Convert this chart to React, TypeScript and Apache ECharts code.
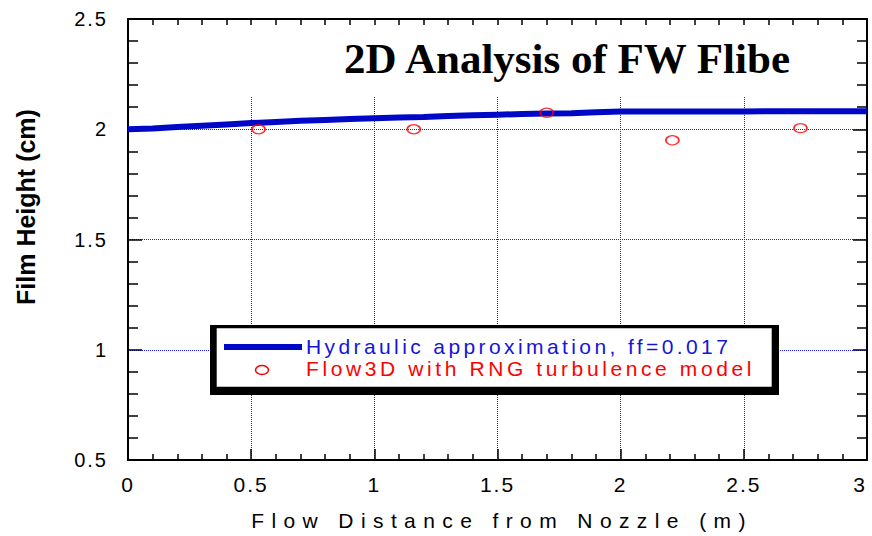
import React, { useEffect, useRef } from "react";
import * as echarts from "echarts";

// ---- data ----
const lineX = [0, 0.1, 0.2, 0.3, 0.4, 0.5, 0.6, 0.7, 0.8, 0.9, 1.0, 1.1, 1.2, 1.3, 1.4, 1.5, 1.6, 1.7, 1.8, 1.9, 2.0, 2.5, 3.0];
const lineY = [2.0, 2.003, 2.01, 2.016, 2.022, 2.028, 2.033, 2.038, 2.042, 2.046, 2.05, 2.053, 2.056, 2.06, 2.063, 2.066, 2.069, 2.071, 2.073, 2.077, 2.08, 2.081, 2.082];
const flowX = [0.53, 1.16, 1.7, 2.21, 2.73];
const flowY = [2.0, 2.0, 2.075, 1.95, 2.005];

const titleText = "2D Analysis of FW Flibe";
const xName = "Flow Distance from Nozzle (m)";
const yName = "Film Height (cm)";
const seriesNames = ["Hydraulic approximation, ff=0.017", "Flow3D with RNG turbulence model"];

const SANS = "'Liberation Sans', Arial, sans-serif";
const BLUE_LINE = "#0008c8";
const BLUE_TEXT = "#1414dc";
const RED = "#ff0000";
const GRID_BLUE = "#1a1aff";

const css = `
text[style*="lsA"], text[font-family*="lsA"] { letter-spacing: 3.4px; }
text[style*="lsB"], text[font-family*="lsB"] { letter-spacing: 3.6px; }
text[style*="lsC"], text[font-family*="lsC"] { letter-spacing: 2px; }
text[style*="lsD"], text[font-family*="lsD"] { letter-spacing: 7.4px; }
path[stroke-dasharray] { shape-rendering: crispEdges; }
`;

export default function App() {
  const ref = useRef<HTMLDivElement>(null);

  useEffect(() => {
    if (!ref.current) return;
    const chart = echarts.init(ref.current, undefined, { renderer: "svg" });

    const tickAxisBase = {
      min: 0,
      max: 3,
      interval: 0.5,
      type: "value" as const,
      z: 5,
      axisLine: { show: true, onZero: false, lineStyle: { color: "#000", width: 2 } },
      splitLine: { show: false },
    };

    const gridLineStyle = { color: GRID_BLUE, width: 1, type: [1, 1] };

    const option: any = {
      animation: false,
      backgroundColor: "#fff",
      grid: { left: 128, right: 5, top: 19, bottom: 76, containLabel: false, outerBoundsMode: "none" },
      xAxis: [
        {
          ...tickAxisBase,
          position: "bottom",
          axisTick: { show: true, inside: true, length: 11, lineStyle: { color: "#000", width: 1.5 } },
          minorTick: { show: true, splitNumber: 5, length: 6, lineStyle: { color: "#000", width: 1.5 } },
          axisLabel: {
            show: true,
            margin: 14,
            color: "#000",
            fontSize: 21,
            fontFamily: SANS + ", lsC",
            alignMaxLabel: "right",
          },
        },
        {
          ...tickAxisBase,
          position: "top",
          axisTick: { show: true, inside: true, length: 6, lineStyle: { color: "#000", width: 1.5 } },
          minorTick: { show: true, splitNumber: 5, length: 6, lineStyle: { color: "#000", width: 1.5 } },
          axisLabel: { show: false },
        },
        {
          type: "value",
          min: 0,
          max: 3,
          interval: 0.5,
          position: "bottom",
          z: 0,
          axisLine: { show: false },
          axisTick: { show: false },
          axisLabel: { show: false },
          splitLine: { show: true, lineStyle: gridLineStyle },
        },
      ],
      yAxis: [
        {
          type: "value",
          min: 0.5,
          max: 2.5,
          interval: 0.5,
          position: "left",
          z: 5,
          axisLine: { show: true, onZero: false, lineStyle: { color: "#000", width: 2 } },
          axisTick: { show: true, inside: true, length: 14, lineStyle: { color: "#000", width: 1.5 } },
          minorTick: { show: true, splitNumber: 5, length: 10, lineStyle: { color: "#000", width: 1.5 } },
          splitLine: { show: false },
          axisLabel: {
            show: true,
            margin: 20,
            color: "#000",
            fontSize: 20,
            fontFamily: SANS + ", lsC",
          },
        },
        {
          type: "value",
          min: 0.5,
          max: 2.5,
          interval: 0.5,
          position: "right",
          z: 5,
          axisLine: { show: true, onZero: false, lineStyle: { color: "#000", width: 2 } },
          axisTick: { show: true, inside: true, length: 14, lineStyle: { color: "#000", width: 1.5 } },
          minorTick: { show: true, splitNumber: 5, length: 10, lineStyle: { color: "#000", width: 1.5 } },
          splitLine: { show: false },
          axisLabel: { show: false },
        },
        {
          type: "value",
          min: 0.5,
          max: 2.5,
          interval: 0.5,
          position: "left",
          z: 0,
          axisLine: { show: false },
          axisTick: { show: false },
          axisLabel: { show: false },
          splitLine: { show: true, lineStyle: gridLineStyle },
        },
      ],
      series: [
        {
          name: seriesNames[0],
          type: "line",
          xAxisIndex: 0,
          yAxisIndex: 0,
          z: 10,
          symbol: "none",
          data: lineX.map((x, i) => [x, lineY[i]]),
          lineStyle: { color: BLUE_LINE, width: 6 },
          clip: false,
        },
        {
          name: seriesNames[1],
          type: "scatter",
          xAxisIndex: 0,
          yAxisIndex: 0,
          z: 11,
          symbol: "circle",
          symbolSize: [13, 9],
          data: flowX.map((x, i) => [x, flowY[i]]),
          itemStyle: { color: "rgba(255,255,255,0)", borderColor: RED, borderWidth: 1.5 },
        },
      ],
      graphic: [
        // white title backdrop hiding grid lines
        {
          type: "rect",
          z: 1,
          silent: true,
          shape: { x: 130, y: 20, width: 736, height: 77 },
          style: { fill: "#fff" },
        },
        {
          type: "text",
          z: 20,
          x: 344,
          y: 58,
          style: {
            text: titleText,
            fontSize: 43,
            fontWeight: "bold",
            fontFamily: "'Liberation Serif', 'Times New Roman', serif",
            fill: "#000",
            align: "left",
            textAlign: "left",
            verticalAlign: "middle",
            textVerticalAlign: "middle",
          },
        },
        {
          type: "text",
          z: 20,
          x: 502,
          y: 520,
          style: {
            text: xName,
            fontSize: 21,
            fontFamily: SANS + ", lsD",
            fill: "#000",
            align: "center",
            textAlign: "center",
            verticalAlign: "middle",
            textVerticalAlign: "middle",
          },
        },
        {
          type: "text",
          z: 20,
          x: 26,
          y: 207,
          rotation: Math.PI / 2,
          style: {
            text: yName,
            fontSize: 25,
            fontWeight: "bold",
            fontFamily: SANS,
            fill: "#000",
            align: "center",
            textAlign: "center",
            verticalAlign: "middle",
            textVerticalAlign: "middle",
          },
        },
        // legend box
        {
          type: "rect",
          z: 30,
          shape: { x: 210, y: 325, width: 569, height: 70 },
          style: { fill: "#000" },
        },
        {
          type: "rect",
          z: 31,
          shape: { x: 216.7, y: 328.3, width: 555, height: 58.4 },
          style: { fill: "#fff" },
        },
        {
          type: "line",
          z: 32,
          shape: { x1: 224, y1: 347, x2: 302, y2: 347 },
          style: { stroke: BLUE_LINE, lineWidth: 6 },
        },
        {
          type: "ellipse",
          z: 32,
          shape: { cx: 262, cy: 370, rx: 6.5, ry: 4.5 },
          style: { stroke: RED, lineWidth: 1.5, fill: "none" },
        },
        {
          type: "text",
          z: 32,
          x: 306,
          y: 346,
          style: {
            text: seriesNames[0],
            fontSize: 21,
            fontFamily: SANS + ", lsA",
            fill: BLUE_TEXT,
            align: "left",
            textAlign: "left",
            verticalAlign: "middle",
            textVerticalAlign: "middle",
          },
        },
        {
          type: "text",
          z: 32,
          x: 306,
          y: 368.4,
          style: {
            text: seriesNames[1],
            fontSize: 21,
            fontFamily: SANS + ", lsB",
            fill: RED,
            align: "left",
            textAlign: "left",
            verticalAlign: "middle",
            textVerticalAlign: "middle",
          },
        },
      ],
    };

    chart.setOption(option);
    return () => chart.dispose();
  }, []);

  return (
    <>
      <style>{css}</style>
      <div
        ref={ref}
        style={{ position: "absolute", left: 0, top: 0, width: 872, height: 536, background: "#fff" }}
      />
    </>
  );
}
